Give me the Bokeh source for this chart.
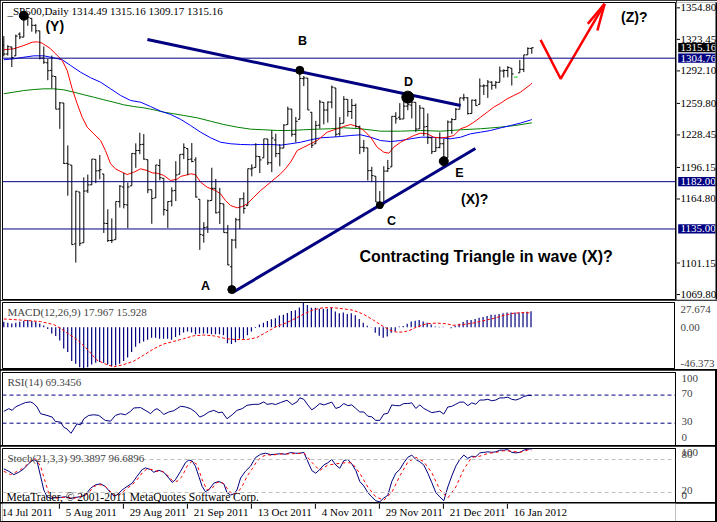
from bokeh.plotting import figure
from bokeh.layouts import column, row
from bokeh.models import Range1d, FixedTicker, Label, Span
from bokeh.core.properties import value
from bokeh.embed import file_html
from bokeh.resources import INLINE
import datetime as dt

# ---------------- data ----------------
dates = [
 "2011-07-14","2011-07-15","2011-07-18","2011-07-19","2011-07-20","2011-07-21","2011-07-22","2011-07-25","2011-07-26","2011-07-27","2011-07-28","2011-07-29",
 "2011-08-01","2011-08-02","2011-08-03","2011-08-04","2011-08-05","2011-08-08","2011-08-09","2011-08-10","2011-08-11","2011-08-12","2011-08-15","2011-08-16","2011-08-17","2011-08-18","2011-08-19","2011-08-22","2011-08-23","2011-08-24","2011-08-25","2011-08-26","2011-08-29","2011-08-30","2011-08-31",
 "2011-09-01","2011-09-02","2011-09-06","2011-09-07","2011-09-08","2011-09-09","2011-09-12","2011-09-13","2011-09-14","2011-09-15","2011-09-16","2011-09-19","2011-09-20","2011-09-21","2011-09-22","2011-09-23","2011-09-26","2011-09-27","2011-09-28","2011-09-29","2011-09-30",
 "2011-10-03","2011-10-04","2011-10-05","2011-10-06","2011-10-07","2011-10-10","2011-10-11","2011-10-12","2011-10-13","2011-10-14","2011-10-17","2011-10-18","2011-10-19","2011-10-20","2011-10-21","2011-10-24","2011-10-25","2011-10-26","2011-10-27","2011-10-28","2011-10-31",
 "2011-11-01","2011-11-02","2011-11-03","2011-11-04","2011-11-07","2011-11-08","2011-11-09","2011-11-10","2011-11-11","2011-11-14","2011-11-15","2011-11-16","2011-11-17","2011-11-18","2011-11-21","2011-11-22","2011-11-23","2011-11-25","2011-11-28","2011-11-29","2011-11-30",
 "2011-12-01","2011-12-02","2011-12-05","2011-12-06","2011-12-07","2011-12-08","2011-12-09","2011-12-12","2011-12-13","2011-12-14","2011-12-15","2011-12-16","2011-12-19","2011-12-20","2011-12-21","2011-12-22","2011-12-23","2011-12-27","2011-12-28","2011-12-29","2011-12-30",
 "2012-01-03","2012-01-04","2012-01-05","2012-01-06","2012-01-09","2012-01-10","2012-01-11","2012-01-12","2012-01-13","2012-01-16","2012-01-17","2012-01-18","2012-01-19","2012-01-20"]

opens = [1317.74,1308.87,1315.94,1307.07,1328.66,1325.65,1343.80,1344.32,1337.39,1331.91,1304.84,1300.12,
 1292.59,1286.56,1254.25,1260.23,1200.28,1198.48,1120.23,1171.77,1121.30,1172.87,1178.86,1204.22,1192.89,1189.62,1140.47,1123.55,1124.36,1162.16,1176.69,1158.85,1177.91,1209.76,1213.00,
 1219.12,1203.90,1173.97,1165.85,1197.98,1185.37,1153.50,1162.59,1173.32,1189.44,1209.21,1214.99,1204.50,1203.63,1164.55,1128.82,1136.91,1163.32,1175.39,1151.74,1159.93,
 1131.21,1097.42,1124.03,1144.11,1165.03,1158.15,1194.60,1196.19,1206.96,1205.65,1224.47,1200.75,1223.46,1209.92,1215.39,1238.72,1254.19,1229.17,1243.97,1284.39,1284.96,
 1251.00,1219.62,1238.25,1260.82,1253.21,1261.12,1275.18,1229.59,1240.12,1263.85,1251.70,1257.81,1236.56,1216.19,1215.62,1192.98,1187.48,1161.41,1158.67,1192.56,1196.72,
 1246.91,1246.03,1244.33,1257.19,1258.14,1260.87,1234.48,1255.05,1236.83,1225.73,1212.12,1216.09,1219.74,1205.72,1241.25,1243.72,1254.00,1265.02,1265.38,1249.75,1262.82,
 1258.86,1277.03,1277.30,1280.93,1277.83,1280.77,1292.02,1292.48,1294.82,1286.00,1290.22,1293.65,1308.07,1314.49]
highs = [1326.68,1317.70,1315.94,1328.14,1330.43,1347.00,1346.10,1344.32,1338.51,1331.91,1316.32,1304.16,
 1307.38,1286.56,1261.20,1260.23,1218.11,1198.48,1172.88,1171.77,1186.29,1189.04,1204.49,1204.22,1208.47,1189.62,1154.54,1145.49,1162.35,1178.56,1190.68,1181.23,1210.28,1220.10,1230.71,
 1229.29,1203.90,1173.97,1198.62,1204.40,1185.37,1162.52,1176.41,1202.38,1209.11,1220.06,1214.99,1220.39,1206.30,1164.55,1141.72,1164.19,1195.86,1184.71,1175.87,1159.93,
 1138.99,1125.12,1146.07,1165.55,1171.40,1194.91,1199.24,1220.25,1207.46,1224.61,1224.47,1233.10,1229.64,1219.36,1239.03,1256.55,1254.19,1246.28,1292.66,1287.08,1284.96,
 1251.00,1242.48,1263.21,1260.82,1261.70,1277.55,1275.18,1246.22,1266.98,1263.85,1264.25,1259.61,1237.73,1223.51,1215.62,1196.81,1187.48,1172.66,1197.35,1203.67,1247.11,
 1251.09,1260.08,1266.73,1266.03,1267.06,1260.87,1258.25,1255.05,1249.86,1225.73,1225.60,1231.04,1224.57,1242.82,1245.09,1255.22,1265.42,1269.37,1265.85,1263.54,1264.12,
 1284.62,1278.73,1283.05,1281.84,1281.99,1296.46,1293.80,1296.82,1294.82,1286.00,1303.00,1308.11,1315.49,1315.16]
lows = [1306.51,1307.35,1295.92,1307.07,1323.65,1325.65,1336.95,1331.09,1329.10,1303.49,1299.16,1282.86,
 1274.73,1254.03,1234.56,1199.54,1168.09,1119.28,1101.54,1118.01,1121.30,1170.74,1178.86,1180.53,1184.36,1131.03,1122.05,1121.09,1124.36,1156.30,1155.47,1135.91,1177.91,1195.77,1209.35,
 1203.85,1170.56,1140.13,1165.85,1183.34,1148.37,1136.07,1157.44,1162.73,1189.44,1204.46,1188.36,1201.29,1166.21,1114.22,1121.36,1131.07,1163.32,1150.40,1139.93,1131.34,
 1098.92,1074.77,1115.68,1134.95,1150.26,1158.15,1187.30,1196.19,1190.58,1205.65,1198.55,1191.48,1206.31,1197.34,1215.39,1238.72,1226.79,1221.06,1243.97,1277.01,1253.16,
 1215.42,1219.62,1234.81,1238.92,1240.75,1254.99,1226.64,1227.70,1240.12,1246.68,1244.34,1235.67,1209.43,1211.36,1183.16,1181.65,1161.79,1158.66,1158.67,1191.80,1196.72,
 1239.73,1243.35,1244.33,1253.03,1244.80,1231.47,1234.48,1227.25,1219.43,1209.47,1212.12,1215.20,1202.37,1205.72,1229.51,1243.72,1254.00,1262.30,1248.64,1249.75,1257.46,
 1258.86,1268.10,1265.26,1273.34,1274.55,1280.77,1285.41,1285.77,1277.58,1286.00,1290.22,1290.99,1308.07,1309.17]
closes = [1308.87,1316.14,1305.44,1326.73,1325.84,1343.80,1345.02,1337.43,1331.94,1304.89,1300.67,1292.28,
 1286.94,1254.05,1260.34,1200.07,1199.38,1119.46,1172.53,1120.76,1172.64,1178.81,1204.49,1192.76,1193.89,1140.65,1123.53,1123.82,1162.35,1177.60,1159.27,1176.80,1210.08,1212.92,1218.89,
 1204.42,1173.97,1165.24,1198.62,1185.90,1154.23,1162.27,1172.87,1188.68,1209.11,1216.01,1204.09,1202.09,1166.76,1129.56,1136.43,1162.95,1175.38,1151.06,1160.40,1131.42,
 1099.23,1123.95,1144.03,1164.97,1155.46,1194.89,1195.54,1207.25,1203.66,1224.58,1200.86,1225.38,1209.88,1215.39,1238.25,1254.19,1229.05,1242.00,1284.59,1285.09,1253.30,
 1218.28,1237.90,1261.15,1253.23,1261.12,1275.92,1229.10,1239.70,1263.85,1251.78,1257.81,1236.91,1216.13,1215.65,1192.98,1188.04,1161.79,1158.67,1192.55,1195.19,1246.96,
 1244.58,1244.28,1257.08,1258.47,1261.01,1234.35,1255.19,1236.47,1225.73,1211.82,1215.75,1219.66,1205.35,1241.30,1243.72,1254.00,1265.33,1265.43,1249.64,1263.02,1257.60,
 1277.06,1277.30,1281.06,1277.81,1280.70,1292.08,1292.48,1295.50,1289.09,1286.00,1293.67,1308.04,1314.50,1315.16]

# moving averages (bar position, price)
ma_red_x = [0,2.5,5,7.1,8.35,9.6,11.7,13.35,14.6,15.85,17.1,18.35,19.6,20.85,22.5,24.2,25.4,26.7,27.9,29.6,30.85,32.5,34.2,35.85,37.1,38.35,40,41.7,43.35,44.2,46.7,47.9,49.2,50.85,52.9,54.2,55.4,56.7,58.35,59.6,60.85,62.5,64.2,66.7,69.2,70.4,71.7,73.35,75,76.7,78.35,80.85,83.35,85,86.7,88.35,90,91.7,93.35,95,96.25,97.5,99.2,100.85,102.5,104.2,105.85,107.5,109.2,110.85,112.5,114.2,115.85,117.5,119.2,120.85,122.5,124.2,125.85,127.5,129.2,131.7,132]
ma_red_y = [1313.1,1314.1,1317.4,1320.6,1321.0,1319.7,1314.1,1307.4,1302.5,1292.5,1274.3,1259.4,1246.1,1236.2,1229.6,1222.9,1213.0,1199.8,1194.8,1191.4,1189.1,1191.4,1194.8,1193.1,1190.8,1190.4,1188.2,1183.2,1184.5,1187.2,1189.8,1189.1,1181.5,1176.5,1173.2,1169.9,1163.3,1158.3,1156.0,1157.3,1160.0,1166.6,1173.2,1181.5,1189.8,1194.8,1201.4,1213.0,1216.3,1219.7,1222.9,1231.2,1234.6,1236.9,1238.8,1236.9,1232.9,1226.2,1216.3,1211.3,1210.3,1216.3,1221.2,1224.6,1227.9,1230.2,1229.6,1226.2,1225.6,1226.2,1227.9,1234.6,1236.9,1241.1,1246.1,1251.1,1256.1,1260.0,1264.4,1267.7,1271.0,1278.6,1280.0]
ma_blue_x = [0,2.5,5,7.5,10,12.5,14.6,16.7,19.2,21.7,24.2,26.7,29.2,31.7,34.2,36.7,39.2,41.7,44.2,46.7,49.2,51.7,54.2,56.7,59.2,61.7,64.2,66.7,69.2,71.7,74.2,76.7,79.2,81.7,84.2,86.7,89.2,91.7,94.2,96.7,99.2,101.7,104.2,106.7,109.2,111.7,114.2,116.7,119.2,121.7,124.2,126.7,129.2,131.7,132]
ma_blue_y = [1303.2,1304.1,1305.7,1307.1,1307.1,1305.1,1303.2,1297.5,1290.8,1285.3,1280.9,1274.3,1267.7,1262.7,1261.0,1256.7,1252.1,1248.8,1244.0,1237.8,1231.2,1225.6,1221.2,1219.7,1219.0,1218.7,1219.0,1219.0,1218.3,1219.7,1221.2,1223.6,1225.6,1226.2,1226.9,1227.9,1228.6,1226.2,1222.9,1221.9,1222.9,1224.6,1226.2,1226.2,1225.6,1224.6,1226.2,1229.6,1231.2,1232.9,1235.5,1237.8,1240.3,1243.3,1243.8]
ma_green_x = [0,2.5,5,7.5,10,12.5,15,17.5,20,22.5,25,27.5,30,32.5,35,37.5,40,42.5,45,48.35,51.7,55,58.35,61.7,65,68.35,71.7,75,78.35,81.7,85,89.2,94.2,99.2,104.2,109.2,114.2,119.2,124.2,128,132]
ma_green_y = [1269.4,1271.0,1272.6,1273.6,1274.3,1274.3,1273.3,1271.0,1268.4,1266.0,1263.4,1261.0,1258.4,1256.7,1255.4,1253.5,1251.1,1249.5,1247.8,1245.5,1242.1,1238.8,1236.2,1234.2,1233.6,1232.9,1232.9,1233.6,1234.2,1234.6,1235.6,1234.6,1232.2,1232.2,1232.9,1232.2,1233.6,1234.6,1236.2,1237.9,1240.5]

h_levels = [1304.76, 1182.00, 1135.00]
price_ticks = [1354.80, 1323.45, 1292.10, 1259.80, 1228.45, 1196.15, 1164.80, 1101.15, 1069.80]

# wave-count pivots: bar index, on the high?, marker size
pivot_idx = [5, 57, 74, 94, 101, 110]
pivot_high = [True, False, True, False, True, False]
pivot_size = [9, 8, 8, 7, 12, 9]

macd_main = [6,5,4,5,6,7,8,7,6,4,
 2,-2,-7,-10,-15,-24,-28,-38,-41,-45,
 -46.373,-45,-42,-40,-39,-40,-42,-44,-43,-41,
 -38,-34,-28,-22,-18,-16,-14,-12,-12,-13,
 -13,-13,-14,-11,-9,-6,-5,-6,-8,-7,
 -7,-7,-8,-8,-8,-9,-18,-19,-17,-13,
 -13,-9,-5,-1,3,5,7,9,10,13,
 14,16,18,19,22,
 27.674,24.8,21.8,21.8,20.6,20.6,20.6,21.8,17.6,15.5,16.4,14.7,15.5,13.4,9.2,5.0,1.7,0.2,-6.3,-9.7,-11.8,-10.5,-6.3,-4.6,0.8,1.3,3.8,6.3,7.1,8.0,6.3,5.0,2.9,0.8,0.4,0.4,0.0,-1.3,1.7,3.8,5.9,8.0,8.0,9.2,10.5,11.3,12.6,13.9,13.9,14.7,15.5,16.4,16.4,16.4,16.4,16.4,17.2,17.967]
macd_sig_x = [0,4.2,9.2,12.5,14.2,15.8,18.3,20.8,23.3,25.8,27.5,30,32.5,35,37.5,40,42.5,45,47.5,50,52.5,55.8,58.3,60.8,63.3,65.8,68.3,70.8,73.3,75,77.5,80,82.5,85,87.5,90,92.5,95,96.7,98.3,100,101.7,103.3,105.8,108.3,110.8,112.5,115,117.5,120,122.5,125,127.5,130,132]
macd_sig_y = [9.2,8.0,6.3,2.9,-1.3,-6.3,-13.9,-24.4,-37.0,-42.0,-44.5,-42.0,-38.2,-31.5,-24.4,-18.9,-16.0,-13.0,-9.7,-8.8,-9.7,-13.0,-13.9,-13.9,-11.8,-5.5,0.8,5.0,10.5,14.5,19.5,21.8,21.8,20.6,18.9,14.7,8.0,0.8,-3.4,-5.5,-5.5,-3.4,0.0,3.8,4.6,3.8,2.1,2.9,4.6,7.1,9.7,13.0,15.5,16.4,15.928]

rsi_x = [0,1.25,2.1,2.9,4.2,5.4,6.7,7.5,8.3,9.2,10.8,12.1,12.9,14.2,15,15.8,16.8,17.5,18.3,19.2,20,21.25,22.5,23.75,24.6,25.4,26.7,27.9,29.2,30.4,31.7,32.5,34.2,35.8,36.7,37.5,38.3,39.2,40,41.25,42.5,44.2,45.4,46.7,47.9,49,50,51.25,52.5,53.75,54.6,55.8,57.1,58.3,59.6,60.8,62.5,63.75,65,65.8,67.1,67.9,69.2,70.8,72.1,73.3,74,
 75,76,77,78,79,80,82,83,84,85,86,87,88,89,90,91,92,93,94,95,96,97,98,99,100,101,102,103,104,105,106,107,108,109,110,111,112,113,114,115,116,117,118,119,120,121,122,123,124,125,126,127,128,129,130,131,132]
rsi_v = [46.9,50.7,48.3,53.1,56.5,59.4,60.3,57.9,53.1,43.5,41.1,38.7,32.4,31.5,24.2,21.8,15.6,21.8,29.0,27.6,36.3,41.1,42.0,41.1,37.2,33.9,32.9,41.1,43.5,42.0,46.9,51.7,52.2,46.9,43.5,48.3,50.7,46.9,42.5,45.9,47.8,54.1,53.1,50.7,45.9,38.7,41.1,45.9,48.3,44.9,45.9,36.3,42.0,48.3,50.7,55.5,56.9,56.9,60.3,56.9,57.9,56.5,59.4,62.7,56.5,60.3,66.1,
 64,56,49,53,58,56,60,51,53,58,55,56,51,46,46,40,39,34,34,43,44,56,55,55,58,58,59,51,56,51,48,45,46,47,43,53,54,57,60,60,55,59,57,63,63,64,62,63,66,66,67,64,63,65,68,69.5,69.35]

stoch_x = [0,1.25,2.5,3.75,5,6.25,7.5,8.3,9.2,10,10.8,11.7,12.9,14.2,15.4,16.7,17.9,19.2,20.4,21.7,22.9,24.2,25.4,26.7,27.5,28.3,29.6,30.8,32.1,33.3,34.6,35.4,36.7,37.5,38.75,40,41.25,42.1,42.9,44.2,45.4,46.25,47.1,47.9,48.75,49.6,50.4,51.25,52.5,53.75,55,55.8,56.7,57.5,58.3,59.2,60.4,61.7,62.9,64.2,65.4,66.7,67.9,69.2,70.4,71.7,72.9,74,
 75,77,78,79,80,81,82,83,84,85,86,87,88,89,90,91,92,93,94,95,96,97,98,99,100,101,102,103,104,105,106,107,108,109,110,111,112,113,114,115,116,117,118,119,120,121,122,123,124,125,126,127,128,129,130,131,132]
stoch_main = [63.0,58.6,52.5,56.8,63.0,72.8,80.2,77.2,49.4,24.7,12.3,9.2,10.5,11.1,12.3,9.2,11.1,12.3,15.4,27.8,33.9,35.8,30.9,19.7,13.6,15.4,24.7,30.9,37.0,49.4,61.7,64.8,61.7,56.8,60.5,56.8,46.3,38.3,43.2,58.6,74.1,79.0,77.2,67.9,49.4,30.9,21.6,24.7,37.0,40.1,35.8,19.7,15.4,17.3,24.7,46.3,58.6,67.9,83.3,89.5,91.4,88.9,89.5,90.7,89.5,92.6,91.4,91.4,
 93,60,55,62,70,74,80,70,64,78,80,72,60,40,32,20,12,5,3,10,15,40,55,62,74,84,88,80,76,70,55,38,20,12,5,30,50,68,80,88,82,86,85,92,93,94,93,94,97,97,98,93,92,93,97,99,99.39]
stoch_sig_x = [0,1.67,2.9,4.2,5.4,6.7,7.9,9.2,10.2,11.25,12.5,13.75,15,16.25,17.5,18.75,20,21.25,22.5,23.75,25,26.25,27.5,28.5,29.6,30.8,32.1,33.3,34.6,35.8,37.1,38.3,39.6,40.8,42.1,43.3,44.6,45.8,47.1,48.3,49.6,50.8,52.1,53.3,54.6,55.8,57.1,58.3,59.6,60.8,62.1,63.3,64.6,65.8,67.1,68.3,69.6,70.8,72.1,73.3,
 75,77,79,81,83,85,87,89,91,93,95,97,99,101,103,105,107,109,111,113,115,117,119,121,123,125,127,129,131,132]
stoch_sig = [58.6,52.5,56.8,61.7,67.9,77.2,81.5,67.9,43.2,18.5,9.2,10.5,11.1,11.1,9.2,12.3,13.6,19.7,30.9,33.9,33.9,24.7,15.4,13.6,19.7,27.8,33.9,43.2,55.5,63.0,61.7,58.6,58.6,52.5,42.0,40.1,49.4,67.9,77.2,71.0,43.2,24.7,27.8,38.3,38.3,27.8,17.3,18.5,30.9,49.4,63.0,77.2,85.2,88.9,87.6,89.5,90.1,90.1,90.7,90.7,
 92,75,60,70,72,74,74,55,30,12,6,20,50,75,84,76,56,25,10,30,62,84,86,91,93,96,95,93,97,96.69]

# hand-drawn projection and trend lines (bar, price)
proj_x = [134.2, 139.2, 150.2]
proj_y = [1323.0, 1284.3, 1358.8]
head_x = [146.0, 148.4]
head_y = [1338.9, 1332.3]
upper_x = [35.9, 114.2]
upper_y = [1323.3, 1257.7]
lower_x = [57.2, 117.9]
lower_y = [1071.8, 1215.0]

# ---------------- drawing ----------------
FONT = "Liberation Sans Narrow"
NAVY = "#000080"
n = len(dates)
idx = list(range(n))
xr = Range1d(-0.325, 167.925)
yr_main = Range1d(1064.9, 1360.1)


def bare(fw, fh, x_range, y_range, left, right, top, bottom, outline="black"):
    p = figure(frame_width=fw, frame_height=fh, x_range=x_range, y_range=y_range,
               output_backend="svg", toolbar_location=None,
               x_axis_location=None, y_axis_location=None,
               min_border_left=left, min_border_right=right, min_border_top=top,
               min_border_bottom=bottom, background_fill_color="white",
               border_fill_color="white", outline_line_color=outline,
               outline_line_width=1)
    p.xgrid.visible = False
    p.ygrid.visible = False
    return p


def panel(frame_h, yr, top, bottom):
    p = figure(frame_width=673, frame_height=frame_h, x_range=xr, y_range=yr,
               output_backend="svg", toolbar_location=None,
               y_axis_location="right", x_axis_location=None,
               min_border_left=2, min_border_right=40, min_border_top=top,
               min_border_bottom=bottom, background_fill_color="white",
               border_fill_color="white", outline_line_color="black",
               outline_line_width=1)
    p.xgrid.visible = False
    p.ygrid.visible = False
    ax = p.yaxis[0]
    ax.major_tick_in = 0
    ax.major_tick_out = 4
    ax.major_tick_line_color = None
    ax.minor_tick_line_color = None
    ax.major_label_text_font = FONT
    ax.major_label_text_font_size = "11px"
    ax.major_label_standoff = 2
    ax.axis_line_color = "black"
    return p


# ---- main price panel
main = bare(673, 297, xr, yr_main, 2, 1, 2, 1)

for lv in h_levels:
    main.add_layout(Span(location=lv, dimension="width", line_color=NAVY, line_width=1))

main.line(ma_green_x, ma_green_y, line_color="#008000", line_width=1)
main.line(ma_blue_x, ma_blue_y, line_color="#0000ff", line_width=1)
main.line(ma_red_x, ma_red_y, line_color="#ff0000", line_width=1)

bar_col = ["#00cc00" if h == l else "black" for h, l in zip(highs, lows)]
main.segment(x0=idx, y0=lows, x1=idx, y1=highs, line_color=bar_col, line_width=1)
main.segment(x0=[i - 0.45 for i in idx], y0=opens, x1=idx, y1=opens, line_color=bar_col, line_width=1)
main.segment(x0=idx, y0=closes, x1=[i + 0.45 for i in idx], y1=closes, line_color=bar_col, line_width=1)

main.line(upper_x, upper_y, line_color=NAVY, line_width=3)
main.line(lower_x, lower_y, line_color=NAVY, line_width=3)

py = [highs[i] if hi else lows[i] for i, hi in zip(pivot_idx, pivot_high)]
main.scatter(pivot_idx, py, size=pivot_size, fill_color="black", line_color="black")

main.line(proj_x, proj_y, line_color="#ff0000", line_width=2.5)
main.segment(x0=[proj_x[-1]] * 2, y0=[proj_y[-1]] * 2, x1=head_x, y1=head_y,
             line_color="#ff0000", line_width=2.5)

title_txt = "_SP500,Daily  %.2f %.2f %.2f %.2f" % (opens[-1], highs[-1], lows[-1], closes[-1])
main.add_layout(Label(x=0.9, y=1352.1, text=title_txt, text_font=FONT, text_font_size="11px",
                      text_baseline="middle", text_color="black"))

ann = [("(Y)", 10.4, 1337.2, "14px", "left"),
       ("B", 74.7, 1321.8, "12.5px", "center"),
       ("A", 50.4, 1078.8, "12.5px", "center"),
       ("C", 96.9, 1143.4, "12.5px", "center"),
       ("D", 101.2, 1280.6, "12.5px", "center"),
       ("E", 113.9, 1190.6, "12.5px", "center"),
       ("(X)?", 117.7, 1164.8, "14px", "center"),
       ("(Z)?", 154.3, 1345.2, "14px", "left"),
       ("Contracting Triangle in wave (X)?", 88.9, 1107.6, "16px", "left")]
for t, ax_, ay_, fs, al in ann:
    main.add_layout(Label(x=ax_, y=ay_, text=t, text_font="Liberation Sans", text_font_size=fs,
                          text_font_style="bold", text_align=al, text_baseline="middle",
                          text_color="black"))

# price scale column, sharing the price scale of the main panel
pax = bare(41, 297, Range1d(0, 41), yr_main, 0, 0, 2, 1, outline=None)
pax.segment(x0=[0] * len(price_ticks), y0=price_ticks, x1=[3.5] * len(price_ticks), y1=price_ticks,
            line_color="black", line_width=1)
pax.text(x=[4.0] * len(price_ticks), y=price_ticks, text=["%.2f" % v for v in price_ticks],
         text_font=value(FONT), text_font_size="11px", text_baseline="middle",
         text_align="left", text_color="black")
box_vals = [closes[-1]] + h_levels
box_cols = ["black"] + [NAVY] * len(h_levels)
pax.quad(left=[1.7] * len(box_vals), right=[39] * len(box_vals),
         bottom=[v - 4.6 for v in box_vals], top=[v + 4.6 for v in box_vals],
         fill_color=box_cols, line_color=None)
pax.text(x=[4.0] * len(box_vals), y=box_vals, text=["%.2f" % v for v in box_vals],
         text_font=value(FONT), text_font_size="11px", text_baseline="middle",
         text_align="left", text_color="white")
# window edge on the right
pax.quad(left=[39], right=[41], bottom=[1000], top=[1400], fill_color="black", line_color=None)

# ---- MACD
mp = panel(65, Range1d(-46.373, 27.674), 2, 2)
mp.yaxis.ticker = FixedTicker(ticks=[19.7, 0.0, -40.3])
mp.yaxis.major_label_overrides = {19.7: "27.674", 0.0: "0.00", -40.3: "-46.373"}
mp.segment(x0=idx, y0=[0] * n, x1=idx, y1=macd_main, line_color=NAVY, line_width=1.2)
mp.line(macd_sig_x, macd_sig_y, line_color="#ff0000", line_dash="3 2", line_width=1)
mp.add_layout(Label(x=0.9, y=17.4, text="MACD(12,26,9) 17.967 15.928", text_font=FONT,
                    text_font_size="11px", text_baseline="middle"))

# ---- RSI
rp = panel(72, Range1d(-1.77, 102.2), 2, 1)
rp.yaxis.ticker = FixedTicker(ticks=[94.0, 72.0, 32.0, 9.0])
rp.yaxis.major_label_overrides = {94.0: "100", 72.0: "70", 32.0: "30", 9.0: "0"}
for lv in (70, 30):
    rp.add_layout(Span(location=lv, dimension="width", line_color=NAVY, line_dash="4 3", line_width=1))
rp.line(rsi_x, rsi_v, line_color=NAVY, line_width=1)
rp.add_layout(Label(x=0.9, y=89.2, text="RSI(14) 69.3456", text_font=FONT,
                    text_font_size="11px", text_baseline="middle"))

# ---- Stochastic
sp = panel(54, Range1d(0, 100), 2, 0)
sp.yaxis.ticker = FixedTicker(ticks=[92.0, 89.0, 23.0, 15.0])
sp.yaxis.major_label_overrides = {92.0: "100", 89.0: "80", 23.0: "20", 15.0: "0"}
for lv in (80, 20):
    sp.add_layout(Span(location=lv, dimension="width", line_color="#c0c0c0", line_dash="4 3", line_width=1))
sp.line(stoch_x, stoch_main, line_color=NAVY, line_width=1)
sp.line(stoch_sig_x, stoch_sig, line_color="#ff0000", line_dash="3 3", line_width=1)
sp.add_layout(Label(x=0.9, y=83.3, text="Stoch(21,3,3) 99.3897 96.6896", text_font=FONT,
                    text_font_size="11px", text_baseline="middle"))
sp.add_layout(Label(x=0.7, y=11.5, text="MetaTrader, \u00a9 2001-2011 MetaQuotes Software Corp.",
                    text_font=FONT, text_font_size="11.5px", text_baseline="middle",
                    text_color="black"))

# ---- time scale (shares the bar scale)
tsc = bare(673, 18, xr, Range1d(0, 18), 2, 40, 0, 0, outline=None)
date_idx = list(range(0, n, 16))
date_txt = []
for i in date_idx:
    d = dt.date.fromisoformat(dates[i])
    date_txt.append("%d %s" % (d.day, d.strftime("%b %Y")))
tsc.text(x=[i - 0.5 for i in date_idx], y=[15.5] * len(date_idx), text=date_txt,
         text_font=value(FONT), text_font_size="11px", text_baseline="top",
         text_align="left", text_color="black")
tsc.segment(x0=[i - 2.1 for i in date_idx], y0=[18] * len(date_idx),
            x1=[i - 2.1 for i in date_idx], y1=[13] * len(date_idx),
            line_color="black", line_width=1)

layout = column(row(main, pax, spacing=0), mp, rp, sp, tsc, spacing=0, width=717, height=522,
                styles={"background-color": "black"})

open("out.html", "w", encoding="utf-8").write(file_html(layout, INLINE))
